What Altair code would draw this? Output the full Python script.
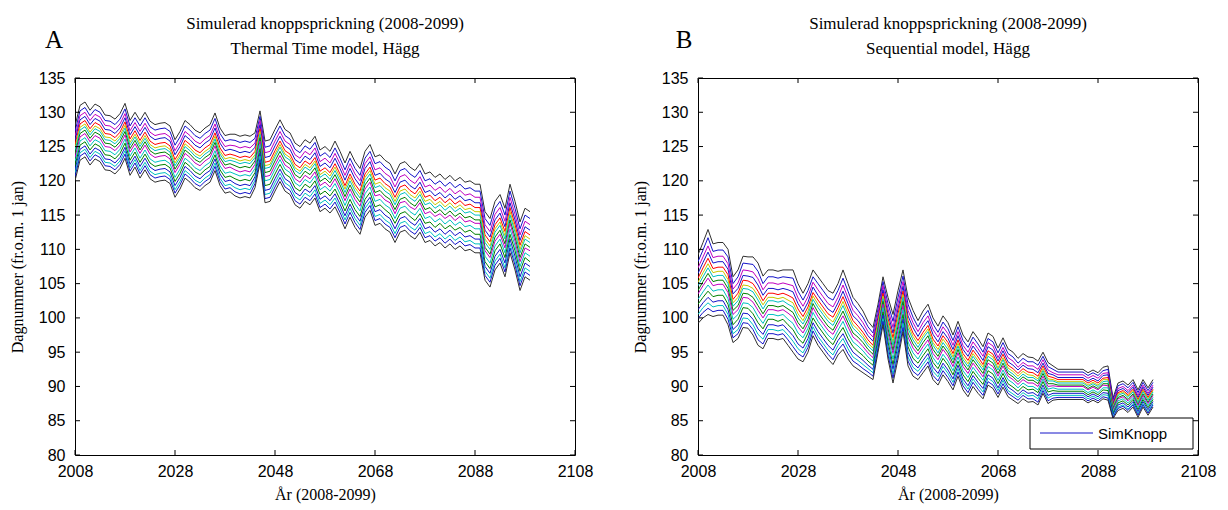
import altair as alt
import pandas as pd

years = list(range(2008, 2100))

# Panel A (Thermal Time model): ensemble centre line and half-spread (day numbers)
center_A = [124.0, 127.0, 127.5, 126.3, 127.2, 126.8, 125.6, 125.5, 125.0, 125.8,
            127.3, 124.8, 126.0, 124.6, 125.8, 124.5, 124.0, 124.2, 124.3, 123.8,
            121.8, 123.0, 124.6, 124.0, 123.2, 122.8, 123.5, 124.0, 125.7, 123.5,
            122.4, 122.6, 122.3, 122.0, 122.2, 122.0, 123.0, 126.4, 121.3, 121.5,
            123.0, 124.4, 123.0, 122.5, 121.0, 120.5, 121.5, 121.0, 122.0, 120.0,
            120.5, 119.8, 121.0, 119.5, 117.8, 119.5, 118.0, 117.0, 119.5, 120.5,
            118.5, 118.8, 118.0, 117.5, 116.0, 117.5, 117.8, 117.0, 116.5, 117.5,
            116.0, 116.3, 115.5, 116.0, 115.2, 115.8, 115.0, 115.5, 114.8, 115.0,
            114.5, 114.5, 110.5, 109.5, 112.0, 113.0, 111.0, 114.5, 112.0, 109.0,
            111.0, 110.5]
half_A = [4.0, 4.0, 4.0, 4.0, 4.0, 4.0, 4.0, 4.0, 4.0, 4.0,
          4.0, 4.0, 4.0, 4.2, 4.2, 4.2, 4.2, 4.2, 4.2, 4.2,
          4.2, 4.2, 4.2, 4.2, 4.2, 4.2, 4.2, 4.2, 4.2, 4.2,
          4.2, 4.2, 4.5, 4.5, 4.5, 4.5, 4.0, 3.8, 4.5, 4.5,
          4.5, 4.5, 4.5, 4.5, 4.5, 4.5, 4.5, 4.5, 4.5, 4.5,
          4.5, 4.5, 4.8, 4.8, 4.8, 4.8, 4.8, 4.8, 4.8, 4.8,
          5.0, 5.0, 5.0, 5.0, 5.0, 5.0, 5.0, 5.0, 5.0, 5.0,
          5.0, 5.0, 5.0, 5.0, 5.0, 5.0, 5.0, 5.0, 5.0, 5.0,
          5.0, 5.0, 5.0, 5.0, 5.0, 5.0, 5.0, 5.0, 5.0, 5.0,
          5.0, 5.0]

# Panel B (Sequential model)
center_B = [104.2, 105.5, 106.7, 105.5, 105.7, 105.7, 104.5, 101.2, 102.0, 103.8,
            103.7, 103.2, 102.0, 100.8, 102.0, 102.0, 101.8, 102.0, 101.5, 101.0,
            99.5, 98.6, 100.0, 102.2, 101.0, 100.0, 99.0, 98.4, 99.8, 101.2,
            99.5, 98.0, 97.3, 96.5, 95.5, 94.8, 98.5, 102.5, 98.5, 95.5,
            99.0, 102.5, 98.0, 96.3, 95.3, 96.5, 97.5, 95.5, 94.5, 96.0,
            95.0, 93.5, 95.5, 93.5, 92.5, 94.0, 93.0, 92.0, 94.0, 93.5,
            92.0, 93.5, 92.0, 91.5, 90.8, 91.5, 91.0, 91.0, 90.5, 92.0,
            90.5, 90.5, 90.3, 90.3, 90.3, 90.3, 90.3, 90.3, 89.8, 90.2,
            89.8, 90.5, 90.5, 86.8, 88.5, 88.8, 88.2, 89.0, 87.5, 89.0,
            87.8, 89.0]
half_B = [5.0, 5.5, 6.2, 5.3, 5.3, 5.3, 5.5, 4.8, 5.0, 5.2,
          5.2, 5.7, 6.0, 5.3, 5.0, 5.0, 5.0, 5.0, 5.5, 6.0,
          5.5, 5.0, 5.0, 4.8, 5.0, 5.0, 5.0, 5.2, 5.2, 5.8,
          5.5, 5.0, 4.8, 4.5, 4.0, 3.8, 3.5, 3.5, 4.5, 5.0,
          5.0, 4.5, 5.0, 4.8, 4.3, 4.5, 4.5, 4.5, 4.3, 4.3,
          4.3, 4.0, 4.0, 4.0, 4.0, 4.0, 4.0, 3.8, 3.8, 3.8,
          3.6, 3.6, 3.5, 3.5, 3.3, 3.3, 3.3, 3.2, 3.2, 3.0,
          3.0, 2.5, 2.2, 2.2, 2.2, 2.2, 2.2, 2.2, 2.2, 2.2,
          2.2, 2.3, 2.5, 1.5, 2.0, 2.0, 2.0, 2.0, 2.0, 2.0,
          2.0, 2.0]

# Ensemble members: position within the spread (top = 1, bottom = -1) and colour
series_names = ["m01", "m02", "m03", "m04", "m05", "m06", "m07", "m08",
                "m09", "m10", "m11", "m12", "m13", "m14", "m15"]
series_pos = [1.0, 0.8, 0.62, 0.47, 0.32, 0.2, 0.1, -0.03,
              -0.15, -0.3, -0.45, -0.6, -0.73, -0.86, -1.0]
series_colors = ["#303030", "#1414c8", "#c000c0", "#1414c8", "#ff0000", "#c8c800",
                 "#00c0c0", "#008000", "#c000c0", "#00c0c0", "#008000", "#1414c8",
                 "#00c0c0", "#1414c8", "#303030"]

x_ticks = [2008, 2028, 2048, 2068, 2088, 2108]
y_ticks = [80, 85, 90, 95, 100, 105, 110, 115, 120, 125, 130, 135]

W, H = 500, 377
SERIF = "Liberation Serif"
SANS = "Liberation Sans"

XS = alt.Scale(domain=[2008, 2108], nice=False, zero=False)
YS = alt.Scale(domain=[80, 135], nice=False, zero=False)
XAX = alt.Axis(values=x_ticks, format="d", ticks=False, grid=False,
               domain=False, labelFont=SANS, labelFontSize=16,
               labelColor="black", labelPadding=8, labelFlush=False,
               title="År (2008-2099)", titleFont=SERIF,
               titleFontSize=16, titleFontWeight="normal",
               titleColor="black", titlePadding=7)
YAX = alt.Axis(values=y_ticks, ticks=False, grid=False, domain=False,
               labelFont=SANS, labelFontSize=16, labelColor="black",
               labelPadding=10, labelFlush=False,
               title="Dagnummer (fr.o.m. 1 jan)", titleFont=SERIF,
               titleFontSize=16, titleFontWeight="normal",
               titleColor="black", titlePadding=13)


def build_df(center, half):
    rows = []
    for name, pos in zip(series_names, series_pos):
        for yr, c, h in zip(years, center, half):
            rows.append({"year": yr, "value": round(c + pos * h, 1), "series": name})
    return pd.DataFrame(rows)


def panel(center, half, subtitle, letter, letter_dx, legend):
    df = build_df(center, half)
    lines = alt.Chart(df).mark_line(strokeWidth=1, clip=True).encode(
        x=alt.X("year:Q", scale=XS, axis=XAX),
        y=alt.Y("value:Q", scale=YS, axis=YAX),
        color=alt.Color("series:N", scale=alt.Scale(domain=series_names,
                                                    range=series_colors),
                        legend=None),
    )
    ytk = pd.DataFrame({"value": y_ticks})
    xtk = pd.DataFrame({"year": x_ticks})
    tl = alt.Chart(ytk).mark_rule(color="black", strokeWidth=1).encode(
        y=alt.Y("value:Q", scale=YS, axis=YAX), x=alt.value(0), x2=alt.value(5))
    tr = alt.Chart(ytk).mark_rule(color="black", strokeWidth=1).encode(
        y=alt.Y("value:Q", scale=YS, axis=YAX), x=alt.value(W - 5), x2=alt.value(W))
    tb = alt.Chart(xtk).mark_rule(color="black", strokeWidth=1).encode(
        x=alt.X("year:Q", scale=XS, axis=XAX), y=alt.value(H - 5), y2=alt.value(H))
    tt = alt.Chart(xtk).mark_rule(color="black", strokeWidth=1).encode(
        x=alt.X("year:Q", scale=XS, axis=XAX), y=alt.value(0), y2=alt.value(5))
    lab = alt.Chart(pd.DataFrame({"t": [letter]})).mark_text(
        font=SERIF, fontSize=25, color="black", align="center", baseline="middle"
    ).encode(text="t:N", x=alt.value(letter_dx), y=alt.value(-38))
    layers = [lines, tl, tr, tb, tt, lab]
    if legend:
        one = pd.DataFrame({"t": ["SimKnopp"]})
        box = alt.Chart(one).mark_rect(fill="white", stroke="black",
                                       strokeWidth=1).encode(
            x=alt.value(332), x2=alt.value(495), y=alt.value(340), y2=alt.value(371))
        ln = alt.Chart(one).mark_rule(color="#1414c8", strokeWidth=1).encode(
            x=alt.value(342), x2=alt.value(395), y=alt.value(355))
        tx = alt.Chart(one).mark_text(font=SANS, fontSize=15, color="black",
                                      align="left", baseline="middle").encode(
            text="t:N", x=alt.value(400), y=alt.value(356))
        layers += [box, ln, tx]
    return alt.layer(*layers).properties(
        width=W, height=H,
        title=alt.Title(["Simulerad knoppsprickning (2008-2099)", subtitle],
                        font=SERIF, fontSize=17, fontWeight="normal",
                        color="black", lineHeight=25, anchor="middle", offset=-30),
    )


left = panel(center_A, half_A, "Thermal Time model, Hägg", "A", -21, False)
right = panel(center_B, half_B, "Sequential model, Hägg", "B", -14, True)

chart = alt.hconcat(left, right, spacing=123, bounds="flush").configure_view(
    stroke="black", strokeWidth=1
).properties(
    background="white", padding={"left": 8, "top": 14, "right": 5, "bottom": 5}
)

chart.save("out.html", embed_options={"renderer": "svg", "actions": False})
